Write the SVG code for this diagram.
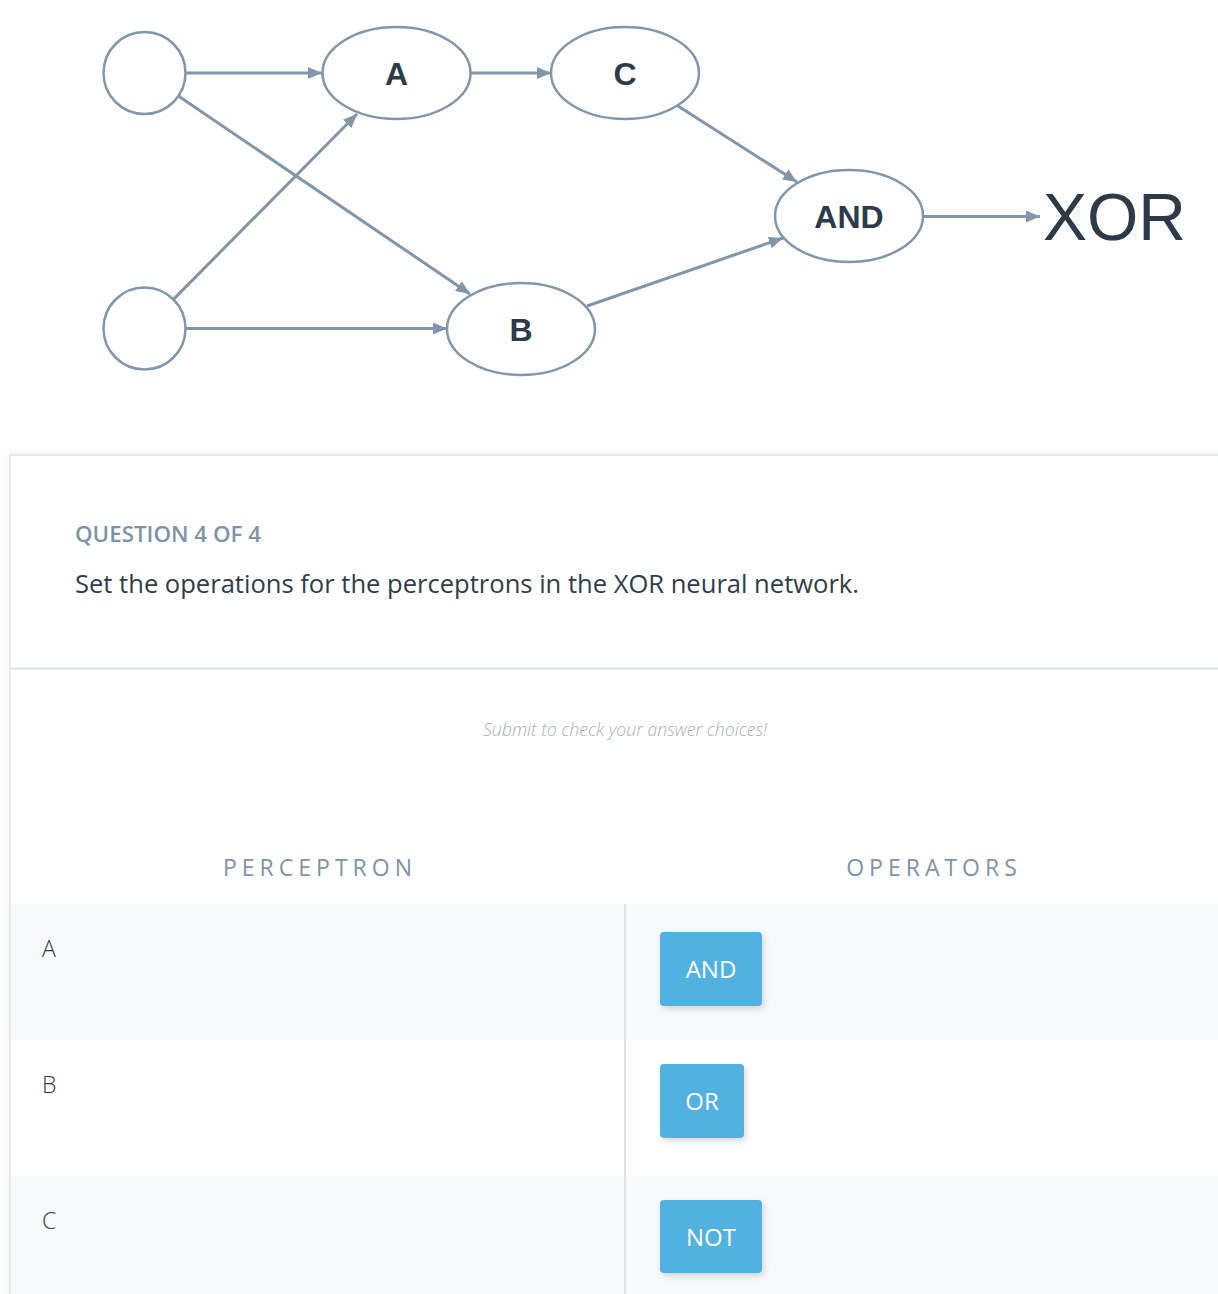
<svg xmlns="http://www.w3.org/2000/svg" width="1218" height="1294" viewBox="0 0 1218 1294">
<style>
.node{fill:#fff;stroke:#8096ab;stroke-width:2.5}
.lbl{font-family:"Liberation Sans",Arial,sans-serif;font-weight:bold;font-size:32px;fill:#2d3a48;text-anchor:middle}
.edge{stroke:#8096ab;stroke-width:3;fill:none}
.os{font-family:"Open Sans","Noto Sans",sans-serif}
.hdr{font-size:23px;fill:#7d93a8;letter-spacing:5px;text-anchor:middle}
.row{font-size:23px;fill:#2e3d49;font-weight:300}
.btn{fill:#51b1e0}
.btxt{font-size:24px;fill:#fff;text-anchor:middle}
</style>
<defs>
<marker id="arr" markerUnits="userSpaceOnUse" markerWidth="15" markerHeight="12" refX="14" refY="6" orient="auto">
<path d="M0,0 L14,6 L0,12 z" fill="#8096ab"/>
</marker>
<filter id="sh" x="-30%" y="-30%" width="160%" height="160%">
<feDropShadow dx="2" dy="3" stdDeviation="3" flood-color="#000" flood-opacity="0.15"/>
</filter>
<filter id="csh" x="-5%" y="-5%" width="110%" height="110%">
<feDropShadow dx="0" dy="0" stdDeviation="4" flood-color="#000" flood-opacity="0.08"/>
</filter>
</defs>
<rect width="1218" height="1294" fill="#fff"/>

<g id="connectors">
<line class="edge" x1="186" y1="73" x2="322" y2="73" marker-end="url(#arr)"/>
<line class="edge" x1="471" y1="73" x2="551" y2="73" marker-end="url(#arr)"/>
<line class="edge" x1="178.4" y1="96" x2="470" y2="294" marker-end="url(#arr)"/>
<line class="edge" x1="173.4" y1="299.4" x2="357" y2="114" marker-end="url(#arr)"/>
<line class="edge" x1="186" y1="328.5" x2="447" y2="328.5" marker-end="url(#arr)"/>
<line class="edge" x1="678" y1="106" x2="797" y2="182" marker-end="url(#arr)"/>
<line class="edge" x1="587" y1="306" x2="783" y2="238" marker-end="url(#arr)"/>
<line class="edge" x1="923" y1="216.5" x2="1040" y2="216.5" stroke-width="2.2" marker-end="url(#arr)"/>
</g>

<g id="in1"><circle class="node" cx="144.5" cy="73" r="41"/></g>
<g id="in2"><circle class="node" cx="144.5" cy="328.5" r="41"/></g>
<g id="nodeA"><ellipse class="node" cx="396.5" cy="73" rx="74" ry="46"/><text class="lbl" x="396.5" y="85">A</text></g>
<g id="nodeC"><ellipse class="node" cx="625" cy="73" rx="74" ry="46"/><text class="lbl" x="625" y="85">C</text></g>
<g id="nodeB"><ellipse class="node" cx="521" cy="329" rx="74" ry="46"/><text class="lbl" x="521" y="341">B</text></g>
<g id="nodeAND"><ellipse class="node" cx="849" cy="216" rx="74" ry="46"/><text class="lbl" x="849" y="228">AND</text></g>
<g id="xor"><text x="1043" y="240" font-family="Liberation Sans,Arial,sans-serif" font-size="66" fill="#2d3a48">XOR</text></g>

<g id="card">
<rect x="10" y="455" width="1220" height="850" fill="#fff" stroke="#dde3ea" stroke-width="1.5" filter="url(#csh)"/>
<line x1="10" y1="668.5" x2="1218" y2="668.5" stroke="#dde3ea" stroke-width="2"/>
<text class="os" x="75" y="542" font-size="21" font-weight="600" fill="#7d93a8" textLength="186" lengthAdjust="spacingAndGlyphs">QUESTION 4 OF 4</text>
<text class="os" x="75" y="593" font-size="25" fill="#2e3d49" textLength="784" lengthAdjust="spacingAndGlyphs">Set the operations for the perceptrons in the XOR neural network.</text>
<text class="os" x="483" y="736" font-size="17.5" font-style="italic" font-weight="300" fill="#9fb0c2" textLength="284" lengthAdjust="spacingAndGlyphs">Submit to check your answer choices!</text>
<text class="os hdr" x="320" y="876">PERCEPTRON</text>
<text class="os hdr" x="934" y="876">OPERATORS</text>
<rect x="11" y="904" width="1207" height="136" fill="#f8f9fb"/>
<rect x="11" y="1176" width="1207" height="118" fill="#f8f9fb"/>
<line x1="625" y1="904" x2="625" y2="1294" stroke="#dde3ea" stroke-width="2"/>
<text class="os row" x="42" y="957">A</text>
<text class="os row" x="42" y="1093">B</text>
<text class="os row" x="42" y="1229">C</text>
</g>

<g id="btnAND"><rect class="btn" x="660" y="932" width="102" height="74" rx="4" filter="url(#sh)"/><text class="os btxt" x="711" y="978">AND</text></g>
<g id="btnOR"><rect class="btn" x="660" y="1064" width="84" height="74" rx="4" filter="url(#sh)"/><text class="os btxt" x="702" y="1110">OR</text></g>
<g id="btnNOT"><rect class="btn" x="660" y="1200" width="102" height="73" rx="4" filter="url(#sh)"/><text class="os btxt" x="711" y="1246">NOT</text></g>
</svg>
